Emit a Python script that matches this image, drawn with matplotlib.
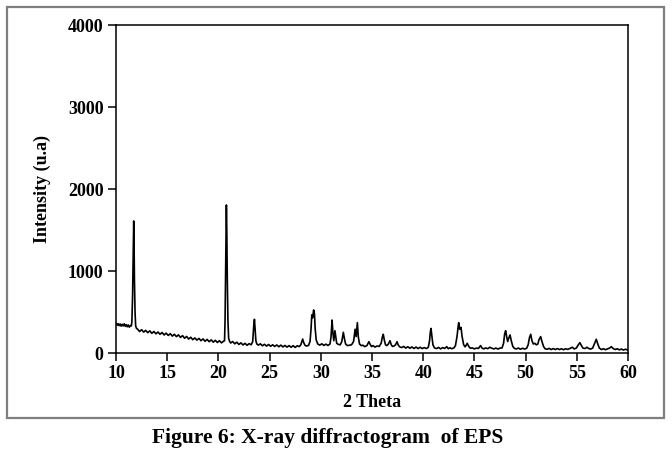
import matplotlib
matplotlib.use("Agg")
import matplotlib.pyplot as plt
from matplotlib.patches import Rectangle

# XRD trace of EPS (2 theta, intensity)
region_a = [  # 10 - 12 deg, first sharp peak
    (10.0, 365), (10.1, 338), (10.2, 358), (10.3, 334), (10.4, 354), (10.5, 328),
    (10.6, 350), (10.7, 330), (10.8, 356), (10.9, 325), (11.0, 346), (11.1, 320),
    (11.2, 342), (11.3, 315), (11.4, 334), (11.5, 330), (11.55, 380), (11.62, 700),
    (11.68, 1250), (11.73, 1610), (11.76, 1400), (11.8, 900), (11.86, 500),
    (11.92, 330), (12.0, 300),
]
region_b = [  # 12 - 21 deg, sloping background and 20.8 peak
    (12.1, 292), (12.3, 262), (12.5, 284), (12.7, 255), (12.9, 276), (13.1, 248),
    (13.3, 270), (13.5, 240), (13.7, 262), (13.9, 234), (14.1, 256), (14.3, 228),
    (14.5, 250), (14.7, 220), (14.9, 242), (15.1, 214), (15.3, 236), (15.5, 206),
    (15.7, 228), (15.9, 200), (16.1, 221), (16.3, 190), (16.5, 212), (16.7, 180),
    (16.9, 202), (17.1, 170), (17.3, 192), (17.5, 162), (17.7, 184), (17.9, 157),
    (18.1, 178), (18.3, 150), (18.5, 172), (18.7, 143), (18.9, 166), (19.1, 138),
    (19.3, 160), (19.5, 132), (19.7, 155), (19.9, 128), (20.1, 150), (20.3, 124),
    (20.5, 144), (20.6, 150), (20.65, 400), (20.72, 1100), (20.78, 1805),
    (20.82, 1500), (20.87, 900), (20.93, 400), (21.0, 180), (21.1, 140),
]
region_c = [  # 21 - 34 deg
    (21.2, 122), (21.4, 140), (21.6, 112), (21.8, 132), (22.0, 104), (22.2, 124),
    (22.4, 98), (22.6, 118), (22.8, 94), (23.0, 114), (23.2, 100), (23.35, 140),
    (23.45, 330), (23.52, 411), (23.58, 300), (23.66, 150), (23.75, 110), (23.9, 96),
    (24.1, 112), (24.3, 88), (24.5, 106), (24.7, 84), (24.9, 104), (25.1, 82),
    (25.3, 100), (25.5, 80), (25.7, 98), (25.9, 76), (26.1, 96), (26.3, 74),
    (26.5, 92), (26.7, 72), (26.9, 90), (27.1, 70), (27.3, 89), (27.5, 68),
    (27.7, 88), (27.9, 78), (28.05, 100), (28.15, 140), (28.23, 170), (28.32, 130),
    (28.45, 95), (28.6, 85), (28.8, 92), (28.95, 140), (29.05, 300), (29.12, 465),
    (29.2, 430), (29.3, 525), (29.38, 480), (29.45, 300), (29.55, 160), (29.7, 110),
    (29.9, 96), (30.1, 112), (30.3, 92), (30.5, 108), (30.7, 92), (30.9, 110),
    (31.0, 200), (31.1, 402), (31.18, 250), (31.27, 150), (31.38, 272), (31.46, 200),
    (31.55, 120), (31.7, 105), (31.9, 100), (32.05, 140), (32.2, 252), (32.3, 180),
    (32.42, 110), (32.6, 90), (32.8, 95), (33.0, 100), (33.2, 140), (33.35, 290),
    (33.45, 200), (33.57, 370), (33.66, 200), (33.78, 110), (33.95, 90),
]
region_d = [  # 34 - 47 deg
    (34.1, 95), (34.3, 78), (34.5, 90), (34.62, 120), (34.7, 138), (34.8, 110),
    (34.95, 78), (35.1, 90), (35.3, 72), (35.5, 86), (35.7, 80), (35.9, 120),
    (36.0, 190), (36.1, 228), (36.2, 160), (36.32, 100), (36.45, 90), (36.6, 110),
    (36.76, 150), (36.88, 100), (37.0, 80), (37.15, 85), (37.3, 100), (37.45, 138),
    (37.55, 100), (37.7, 75), (37.9, 66), (38.1, 80), (38.3, 60), (38.5, 76),
    (38.7, 58), (38.9, 74), (39.1, 55), (39.3, 72), (39.5, 54), (39.7, 70),
    (39.9, 54), (40.1, 66), (40.3, 54), (40.5, 70), (40.62, 150), (40.7, 260),
    (40.76, 300), (40.84, 220), (40.95, 100), (41.1, 62), (41.3, 54), (41.5, 68),
    (41.7, 50), (41.9, 66), (42.1, 56), (42.3, 77), (42.45, 52), (42.6, 64),
    (42.8, 52), (43.0, 62), (43.15, 90), (43.3, 200), (43.42, 330), (43.47, 370),
    (43.56, 290), (43.64, 300), (43.69, 313), (43.8, 200), (43.95, 100), (44.1, 75),
    (44.3, 118), (44.45, 80), (44.6, 58), (44.8, 62), (45.0, 50), (45.2, 60),
    (45.4, 56), (45.6, 90), (45.75, 60), (45.9, 50), (46.1, 62), (46.3, 52),
    (46.5, 70), (46.7, 58), (46.9, 50),
]
region_e = [  # 47 - 60 deg
    (47.1, 60), (47.3, 48), (47.5, 60), (47.7, 62), (47.85, 120), (47.95, 230),
    (48.05, 272), (48.15, 200), (48.25, 140), (48.35, 180), (48.48, 220), (48.6, 150),
    (48.75, 80), (48.9, 56), (49.1, 50), (49.3, 60), (49.5, 46), (49.7, 58),
    (49.9, 48), (50.1, 58), (50.25, 100), (50.38, 190), (50.5, 228), (50.62, 150),
    (50.75, 110), (50.9, 118), (51.05, 100), (51.2, 110), (51.3, 160), (51.47, 200),
    (51.6, 140), (51.75, 80), (51.9, 52), (52.1, 46), (52.3, 56), (52.5, 42),
    (52.7, 54), (52.9, 42), (53.1, 54), (53.3, 42), (53.5, 52), (53.7, 40),
    (53.9, 52), (54.1, 44), (54.3, 54), (54.56, 70), (54.75, 50), (54.95, 60),
    (55.15, 100), (55.3, 126), (55.45, 90), (55.6, 60), (55.8, 55), (56.0, 70),
    (56.15, 55), (56.35, 48), (56.55, 60), (56.75, 120), (56.9, 167), (57.05, 110),
    (57.2, 60), (57.4, 42), (57.6, 52), (57.8, 40), (58.0, 50), (58.2, 60),
    (58.37, 77), (58.55, 55), (58.75, 42), (58.95, 52), (59.15, 38), (59.35, 48),
    (59.55, 36), (59.75, 46), (60.0, 35),
]

x_ticks = [10, 15, 20, 25, 30, 35, 40, 45, 50, 55, 60]
y_ticks = [0, 1000, 2000, 3000, 4000]

trace = region_a + region_b + region_c + region_d + region_e
two_theta = [p[0] for p in trace]
intensity = [p[1] for p in trace]

plt.rcParams["font.family"] = ["Liberation Serif", "DejaVu Serif"]
plt.rcParams["font.weight"] = "bold"

fig = plt.figure(figsize=(6.72, 4.59), dpi=100)
ax = fig.add_axes([116 / 672, 1 - 353 / 459, 512 / 672, 328 / 459])

ax.plot(two_theta, intensity, color="black", linewidth=1.2)

ax.set_xlim(10, 60)
ax.set_ylim(0, 4000)
ax.set_xticks(x_ticks)
ax.set_yticks(y_ticks)
ax.tick_params(axis="both", direction="out", length=6, width=1.1, labelsize=13, pad=3)
for lab in ax.get_xticklabels() + ax.get_yticklabels():
    lab.set_fontweight("bold")
for s in ax.spines.values():
    s.set_linewidth(1.1)

ax.set_xlabel("2 Theta", fontsize=13, fontweight="bold", labelpad=8)
ax.set_ylabel("Intensity (u.a)", fontsize=13, fontweight="bold", labelpad=12)

# grey frame around the plot area, caption below it
frame = Rectangle((7 / 672, 1 - 418 / 459), 657 / 672, 411 / 459,
                  transform=fig.transFigure, fill=False,
                  edgecolor="#7f7f7f", linewidth=1.6)
fig.patches.append(frame)
fig.text(0.487, 1 - 438 / 459, "Figure 6: X-ray diffractogram  of EPS",
         ha="center", va="center", fontsize=15.5, fontweight="bold")

fig.savefig("out.png", dpi=100)
